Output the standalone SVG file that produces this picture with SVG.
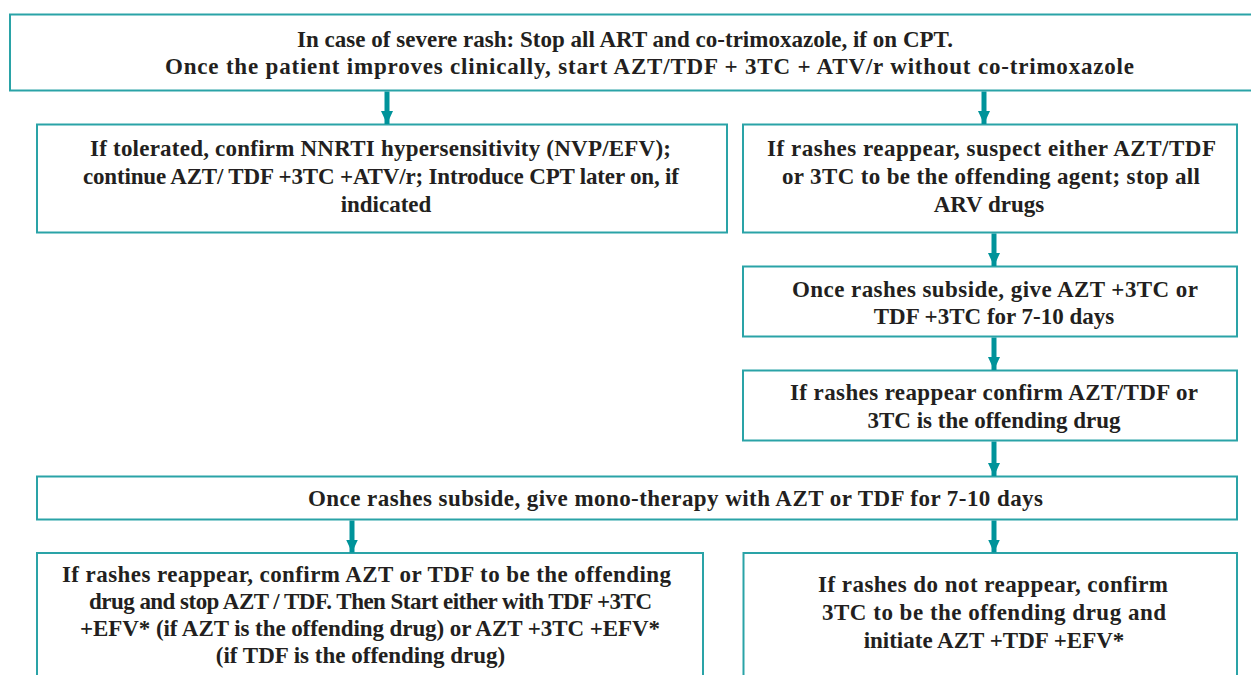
<svg xmlns="http://www.w3.org/2000/svg" width="1251" height="675" viewBox="0 0 1251 675">
  <defs>
    <marker id="head" markerUnits="userSpaceOnUse" markerWidth="13" markerHeight="14" refX="13" refY="6" orient="auto">
      <path d="M0,0 L13,6 L0,12 Z" fill="#00939a"/>
    </marker>
    <style>
      .box { fill: #ffffff; stroke: #2aa3a7; stroke-width: 2; }
      .txt { fill: #231f20; text-anchor: middle; }
      .arrow { stroke: #00939a; stroke-width: 5; fill: none; marker-end: url(#head); }
    </style>
  </defs>
  <rect width="1251" height="675" fill="#ffffff"/>

  <g font-family="Liberation Serif, serif" font-size="23" font-weight="bold">
  <g id="severe-rash">
    <rect class="box" x="10" y="14.5" width="1250" height="76"/>
    <text class="txt" x="625" y="47" textLength="656">In case of severe rash: Stop all ART and co-trimoxazole, if on CPT.</text>
    <text class="txt" x="649.5" y="74" textLength="969">Once the patient improves clinically, start AZT/TDF + 3TC + ATV/r without co-trimoxazole</text>
  </g>

  <g id="tolerated">
    <rect class="box" x="37" y="124.5" width="690" height="108"/>
    <text class="txt" x="380.5" y="156" textLength="581">If tolerated, confirm NNRTI hypersensitivity (NVP/EFV);</text>
    <text class="txt" x="381" y="184" textLength="596">continue AZT/ TDF +3TC +ATV/r; Introduce CPT later on, if</text>
    <text class="txt" x="386" y="212">indicated</text>
  </g>

  <g id="reappear-suspect">
    <rect class="box" x="743" y="124.5" width="494" height="108"/>
    <text class="txt" x="991.5" y="156" textLength="449">If rashes reappear, suspect either AZT/TDF</text>
    <text class="txt" x="991" y="184" textLength="418">or 3TC to be the offending agent; stop all</text>
    <text class="txt" x="989" y="212">ARV drugs</text>
  </g>

  <g id="dual-therapy">
    <rect class="box" x="743" y="266.5" width="494" height="70"/>
    <text class="txt" x="995" y="297" textLength="406">Once rashes subside, give AZT +3TC or</text>
    <text class="txt" x="994" y="324">TDF +3TC for 7-10 days</text>
  </g>

  <g id="reappear-confirm">
    <rect class="box" x="743" y="370.5" width="494" height="70"/>
    <text class="txt" x="994" y="400" textLength="408">If rashes reappear confirm AZT/TDF or</text>
    <text class="txt" x="994" y="428">3TC is the offending drug</text>
  </g>

  <g id="mono-therapy">
    <rect class="box" x="37" y="476.5" width="1200" height="43"/>
    <text class="txt" x="675.5" y="506" textLength="735">Once rashes subside, give mono-therapy with AZT or TDF for 7-10 days</text>
  </g>

  <g id="nrti-offending">
    <rect class="box" x="37" y="553" width="666" height="140"/>
    <text class="txt" x="366.5" y="582" textLength="609">If rashes reappear, confirm AZT or TDF to be the offending</text>
    <text class="txt" x="370.5" y="609" textLength="563">drug and stop AZT / TDF. Then Start either with TDF +3TC</text>
    <text class="txt" x="370" y="636" textLength="580">+EFV* (if AZT is the offending drug) or AZT +3TC +EFV*</text>
    <text class="txt" x="360.5" y="663">(if TDF is the offending drug)</text>
  </g>

  <g id="3tc-offending">
    <rect class="box" x="743.5" y="553" width="493.5" height="140"/>
    <text class="txt" x="993" y="592" textLength="350">If rashes do not reappear, confirm</text>
    <text class="txt" x="994" y="620" textLength="344">3TC to be the offending drug and</text>
    <text class="txt" x="994" y="648">initiate AZT +TDF +EFV*</text>
  </g>
  </g>

  <g id="connectors">
    <line class="arrow" x1="387" y1="91.5" x2="387" y2="124"/>
    <line class="arrow" x1="984" y1="91.5" x2="984" y2="124"/>
    <line class="arrow" x1="994" y1="233.5" x2="994" y2="266"/>
    <line class="arrow" x1="994" y1="337.5" x2="994" y2="370"/>
    <line class="arrow" x1="994" y1="441.5" x2="994" y2="476"/>
    <line class="arrow" x1="352" y1="520.5" x2="352" y2="552.5"/>
    <line class="arrow" x1="994" y1="520.5" x2="994" y2="552.5"/>
  </g>
</svg>
